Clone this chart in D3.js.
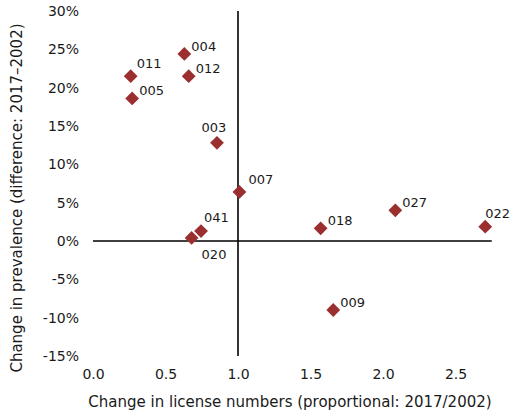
<!DOCTYPE html>
<html>
<head>
<meta charset="utf-8">
<script src="https://cdn.jsdelivr.net/npm/d3@7"></script>
<style>
  html, body { margin: 0; padding: 0; background: #fff; }
  svg { display: block; font-family: "DejaVu Sans", Verdana, sans-serif; }
</style>
</head>
<body>
<svg id="chart" width="510" height="415"></svg>
<script>
// ---- data ----
const districts = ["011", "005", "004", "012", "003", "007", "041", "020", "018", "027", "022", "009"];
const licenseChange = [0.26, 0.27, 0.63, 0.66, 0.855, 1.01, 0.745, 0.68, 1.57, 2.085, 2.705, 1.657];
const prevalenceChange = [0.215, 0.186, 0.244, 0.215, 0.128, 0.064, 0.013, 0.004, 0.0165, 0.040, 0.0187, -0.090];
const labelPlacement = ["upright", "right", "right", "right", "above", "upright2", "up", "below", "right", "right", "upcenter", "right"];
const xTicks = [0, 0.5, 1.0, 1.5, 2.0, 2.5];
const yTicks = [-0.15, -0.10, -0.05, 0, 0.05, 0.10, 0.15, 0.20, 0.25, 0.30];
const xTitle = "Change in license numbers (proportional: 2017/2002)";
const yTitle = "Change in prevalence (difference: 2017\u20132002)";

// ---- layout ----
const svg = d3.select("#chart");
const x = d3.scaleLinear().domain([0, 2.75]).range([93, 491.75]);
const y = d3.scaleLinear().domain([-0.15, 0.30]).range([356, 11]);
const markerColor = "#9b2f2f";
const textColor = "#1a1a1a";
const placeOffsets = {
  right:    { dx: 7,  dy: -3,  anchor: "start" },
  upright:  { dx: 6,  dy: -8,  anchor: "start" },
  upright2: { dx: 9,  dy: -8,  anchor: "start" },
  up:       { dx: 3,  dy: -9,  anchor: "start" },
  upcenter: { dx: 0,  dy: -9,  anchor: "start" },
  above:    { dx: -3, dy: -11, anchor: "middle" },
  below:    { dx: 10, dy: 21,  anchor: "start" }
};

// cross lines at x = 1 and y = 0
svg.append("line")
  .attr("x1", x(0)).attr("x2", x(2.75))
  .attr("y1", y(0)).attr("y2", y(0))
  .attr("stroke", "#000").attr("stroke-width", 1.6);
svg.append("line")
  .attr("x1", x(1)).attr("x2", x(1))
  .attr("y1", y(0.30)).attr("y2", y(-0.15))
  .attr("stroke", "#000").attr("stroke-width", 1.6);

// y axis tick labels
const yAxis = d3.axisLeft(y).tickValues(yTicks)
  .tickFormat(d => Math.round(d * 100) + "%").tickSize(0).tickPadding(0);
const gy = svg.append("g").attr("transform", "translate(79,0)").call(yAxis);
gy.select(".domain").remove();
gy.selectAll("text").attr("font-size", 14).attr("fill", textColor)
  .attr("font-family", "DejaVu Sans, Verdana, sans-serif");

// x axis tick labels
const xAxis = d3.axisBottom(x).tickValues(xTicks)
  .tickFormat(d3.format(".1f")).tickSize(0).tickPadding(0);
const gx = svg.append("g").attr("transform", "translate(0,369)").call(xAxis);
gx.select(".domain").remove();
gx.selectAll("text").attr("font-size", 14).attr("fill", textColor).attr("dy", "0.73em")
  .attr("font-family", "DejaVu Sans, Verdana, sans-serif");

// axis titles
svg.append("text")
  .attr("x", 290).attr("y", 407)
  .attr("text-anchor", "middle").attr("font-size", 15).attr("fill", textColor)
  .text(xTitle);
svg.append("text")
  .attr("transform", "translate(22,198) rotate(-90)")
  .attr("text-anchor", "middle").attr("font-size", 15).attr("fill", textColor)
  .text(yTitle);

// points
const pts = districts.map((d, i) => ({
  name: d, lx: licenseChange[i], py: prevalenceChange[i], place: labelPlacement[i]
}));
const sym = d3.symbol().type(d3.symbolSquare).size(95);
svg.append("g").selectAll("path").data(pts).join("path")
  .attr("d", sym)
  .attr("transform", d => `translate(${x(d.lx)},${y(d.py)}) rotate(45)`)
  .attr("fill", markerColor);

svg.append("g").selectAll("text").data(pts).join("text")
  .attr("x", d => x(d.lx) + placeOffsets[d.place].dx)
  .attr("y", d => y(d.py) + placeOffsets[d.place].dy)
  .attr("text-anchor", d => placeOffsets[d.place].anchor)
  .attr("font-size", 13).attr("fill", textColor)
  .text(d => d.name);
</script>
</body>
</html>
